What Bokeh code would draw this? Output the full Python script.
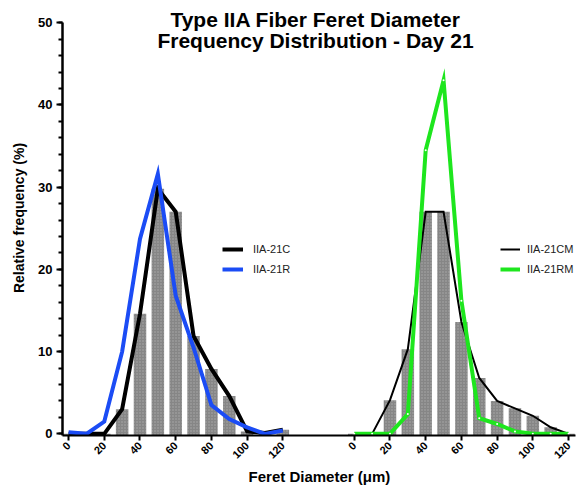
import math
from bokeh.plotting import figure
from bokeh.models import Range1d, FixedTicker, Label, Legend, LegendItem
from bokeh.embed import file_html
from bokeh.resources import INLINE

# ---- data ----
bins = [0, 10, 20, 30, 40, 50, 60, 70, 80, 90, 100, 110, 120]
c_freq = [0, 0, 0, 3.0, 14.6, 29.8, 27.0, 11.9, 7.9, 4.6, 0.3, 0.1, 0.5]
r_freq = [0.2, 0, 1.5, 10.0, 23.7, 31.6, 16.8, 10.5, 3.5, 1.8, 0.8, 0, 0.4]
cm_freq = [0, 0, 4.1, 10.3, 27.0, 27.0, 13.6, 6.8, 4.0, 3.1, 2.2, 0.8, 0]
rm_freq = [0, 0, 0, 2.4, 34.5, 43.0, 16.2, 1.9, 1.2, 0.3, 0, 0, 0]
x_tick_values = [0, 20, 40, 60, 80, 100, 120]
y_tick_values = [0, 10, 20, 30, 40, 50]

RIGHT_OFFSET = 160
bins_r = [b + RIGHT_OFFSET for b in bins]

FONT = "Liberation Sans"

p = figure(width=587, height=488, output_backend="svg", toolbar_location=None,
           x_range=Range1d(-3.4, 286.7), y_range=Range1d(-0.2, 52.7),
           min_border_left=62, min_border_right=7, min_border_top=0,
           min_border_bottom=52)
p.outline_line_color = None
p.xgrid.grid_line_color = None
p.ygrid.grid_line_color = None
p.background_fill_color = "white"

bar_kw = dict(width=7, bottom=-0.2, fill_color="#868686", line_color=None,
              hatch_pattern="dot", hatch_color="white", hatch_alpha=0.3, hatch_scale=3)
p.vbar(x=bins, top=c_freq, **bar_kw)
p.vbar(x=bins_r, top=cm_freq, **bar_kw)

rc = p.line(bins, c_freq, line_color="black", line_width=4, line_join="miter")
rr = p.line(bins, r_freq, line_color="#1b4cf5", line_width=4, line_join="miter")
rcm = p.line(bins_r, cm_freq, line_color="black", line_width=2, line_join="miter")
rrm = p.line(bins_r, rm_freq, line_color="#1ee61e", line_width=4, line_join="miter")
p.scatter(bins_r, rm_freq, size=2, fill_color="white", line_color=None)

# axes
xt = x_tick_values + [v + RIGHT_OFFSET for v in x_tick_values]
p.xaxis.ticker = FixedTicker(ticks=xt, minor_ticks=[])
p.xaxis.bounds = (-3.4, 284)
p.xaxis.major_label_overrides = {v + RIGHT_OFFSET: str(v) for v in x_tick_values}
p.xaxis.major_label_orientation = math.pi / 4
p.xaxis.major_label_text_font = FONT
p.xaxis.major_label_text_font_style = "bold"
p.xaxis.major_label_text_font_size = "11px"
p.xaxis.major_label_text_color = "black"
p.xaxis.axis_line_width = 2
p.xaxis.axis_line_color = "black"
p.xaxis.major_tick_line_width = 2
p.xaxis.major_tick_out = 5
p.xaxis.major_tick_in = 0
p.xaxis.major_label_standoff = 3
p.xaxis.axis_label = "Feret Diameter  (\u03bcm)"
p.xaxis.axis_label_text_font = FONT
p.xaxis.axis_label_text_font_style = "bold"
p.xaxis.axis_label_text_font_size = "15px"
p.xaxis.axis_label_text_color = "black"
p.xaxis.axis_label_standoff = 3

p.yaxis.ticker = FixedTicker(ticks=y_tick_values, minor_ticks=list(range(0, 51, 2)))
p.yaxis.bounds = (-0.2, 50)
p.yaxis.axis_line_width = 2.5
p.yaxis.major_tick_line_width = 2
p.yaxis.minor_tick_line_width = 2
p.yaxis.major_tick_out = 6
p.yaxis.major_tick_in = 0
p.yaxis.minor_tick_out = 4
p.yaxis.minor_tick_in = 0
p.yaxis.major_label_text_font = FONT
p.yaxis.major_label_text_font_style = "bold"
p.yaxis.major_label_text_font_size = "13px"
p.yaxis.major_label_text_color = "black"
p.yaxis.major_label_standoff = 4
p.yaxis.axis_label = "Relative frequency (%)"
p.yaxis.axis_label_text_font = FONT
p.yaxis.axis_label_text_font_style = "bold"
p.yaxis.axis_label_text_font_size = "14px"
p.yaxis.axis_label_text_color = "black"
p.yaxis.axis_label_standoff = 8

# titles
for txt, yy in [("Type IIA Fiber Feret Diameter", 50.36),
                ("Frequency Distribution - Day 21", 47.85)]:
    p.add_layout(Label(x=138.3, y=yy, text=txt, text_align="center", text_baseline="middle",
                       text_font=FONT, text_font_style="bold", text_font_size="21px",
                       text_color="black"))

# legends
leg_kw = dict(padding=0, margin=0, spacing=0, glyph_height=20,
              label_height=20, border_line_color=None,
              background_fill_alpha=0, label_text_font=FONT,
              label_text_font_size="11px", label_text_color="#222222")
leg1 = Legend(items=[LegendItem(label="IIA-21C", renderers=[rc]),
                     LegendItem(label="IIA-21R", renderers=[rr])],
              location=(160, 156), glyph_width=21, label_standoff=10, **leg_kw)
leg2 = Legend(items=[LegendItem(label="IIA-21CM", renderers=[rcm]),
                     LegendItem(label="IIA-21RM", renderers=[rrm])],
              location=(438, 156), glyph_width=20, label_standoff=7, **leg_kw)
p.add_layout(leg1, "center")
p.add_layout(leg2, "center")

open("out.html", "w").write(file_html(p, INLINE))
